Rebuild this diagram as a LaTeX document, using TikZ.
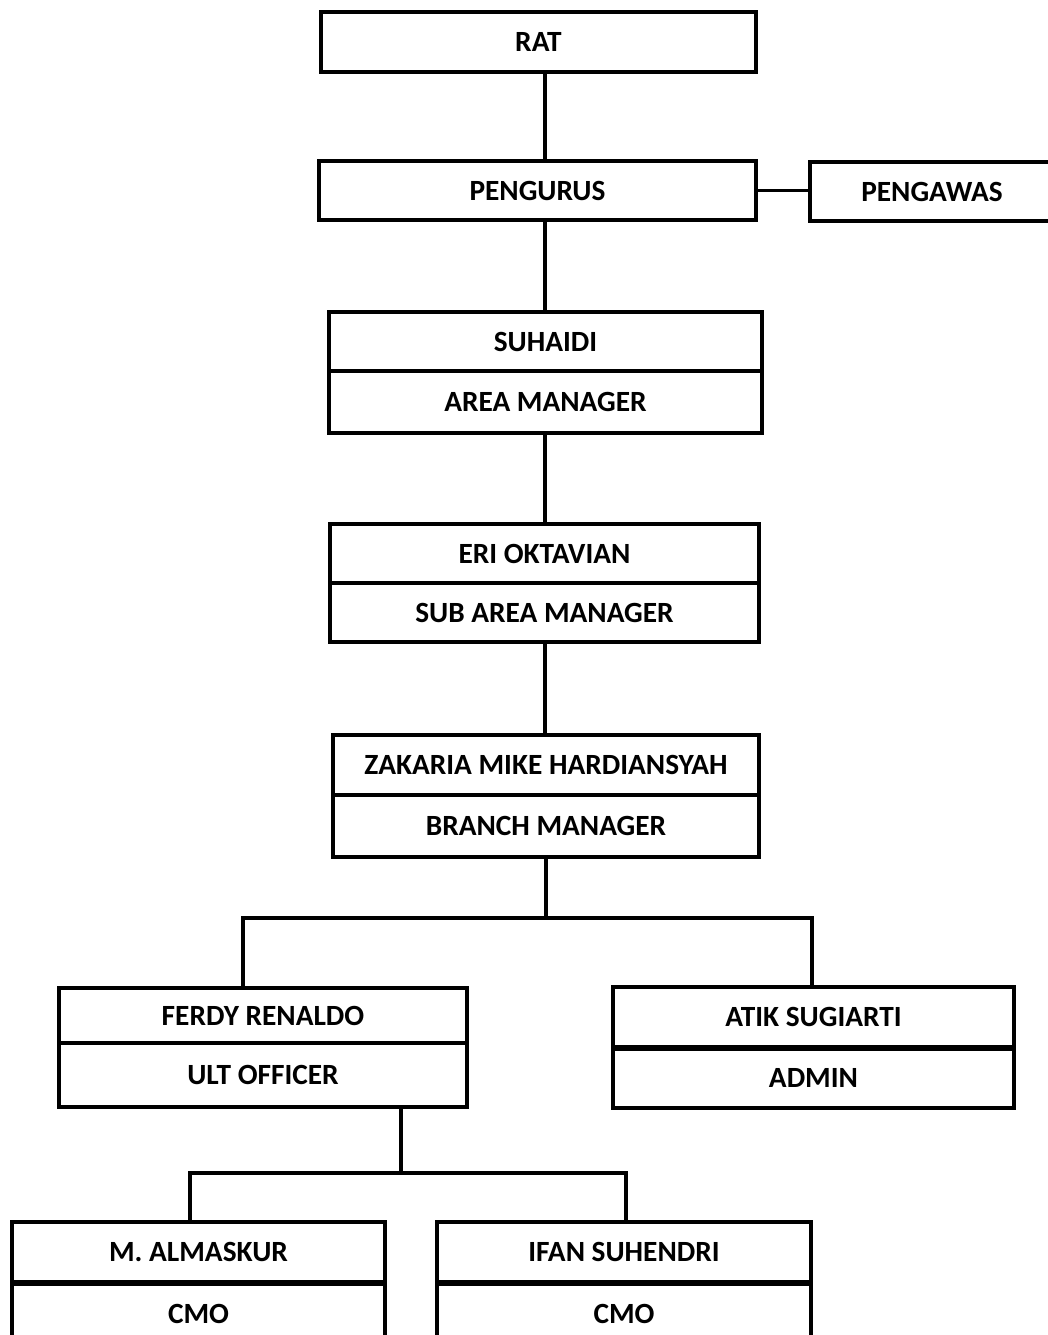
\documentclass[tikz,border=0pt]{standalone}
\usepackage{fontspec}
\setmainfont{Carlito}
\newcommand\orgbox[6]{\node[box, minimum width={(#4-#2)*0.75pt}, minimum height={(#5-#3)*0.75pt}] (#1) at ({(#2+#4)/2},{(#3+#5)/2+1}) {#6};}
\begin{document}
\begin{tikzpicture}[x=0.75pt,y=-0.75pt,
  box/.style={draw, line width=2.4pt, inner sep=0pt, font=\bfseries\fontsize{22}{26}\selectfont},
  conn/.style={line width=2.3pt}]
\useasboundingbox (0,0) rectangle (1048,1335);
\clip (0,0) rectangle (1048,1335);
\orgbox{rat}{321}{11}{756}{71}{RAT}
\orgbox{peng}{319}{160}{756}{219}{PENGURUS}
\orgbox{pengaw}{810}{161}{1054}{220}{PENGAWAS}
\orgbox{suh}{329}{311}{762}{370}{SUHAIDI}
\orgbox{am}{329}{370}{762}{432}{AREA MANAGER}
\orgbox{eri}{330}{523}{759}{582}{ERI OKTAVIAN}
\orgbox{sam}{330}{582}{759}{641}{SUB AREA MANAGER}
\orgbox{zak}{333}{734}{759}{794}{ZAKARIA MIKE HARDIANSYAH}
\orgbox{bm}{333}{794}{759}{856}{BRANCH MANAGER}
\orgbox{ferdy}{59}{987}{467}{1042}{FERDY RENALDO}
\orgbox{ult}{59}{1042}{467}{1106}{ULT OFFICER}
\orgbox{atik}{613}{986}{1014}{1046}{ATIK SUGIARTI}
\orgbox{admin}{613}{1046}{1014}{1107}{ADMIN}
\orgbox{alm}{12}{1221}{385}{1281}{M. ALMASKUR}
\orgbox{cmoa}{12}{1281}{385}{1344}{CMO}
\orgbox{ifan}{437}{1221}{811}{1281}{IFAN SUHENDRI}
\orgbox{cmob}{437}{1281}{811}{1344}{CMO}
\draw[line width=3.5pt] (atik.south west) -- (atik.south east);
\draw[line width=3.5pt] (alm.south west) -- (alm.south east);
\draw[line width=3pt] (ifan.south west) -- (ifan.south east);
\coordinate (vx) at (545,0);
\coordinate (bj) at (546,918);
\coordinate (bl) at (243,918);
\coordinate (br) at (812,918);
\coordinate (uj) at (401,1173);
\coordinate (cl) at (190,1173);
\coordinate (cr) at (626,1173);
\draw[conn] (rat.south -| vx) -- (peng.north -| vx);
\draw[conn] (peng.east) -- (pengaw.west |- peng.east);
\draw[conn] (peng.south -| vx) -- (suh.north -| vx);
\draw[conn] (am.south -| vx) -- (eri.north -| vx);
\draw[conn] (sam.south -| vx) -- (zak.north -| vx);
\draw[conn] (bm.south -| bj) -- (bj);
\draw[conn] (bl |- ferdy.north) -- (bl) -- (br) -- (br |- atik.north);
\draw[conn] (ult.south -| uj) -- (uj);
\draw[conn] (cl |- alm.north) -- (cl) -- (cr) -- (cr |- ifan.north);
\end{tikzpicture}
\end{document}
